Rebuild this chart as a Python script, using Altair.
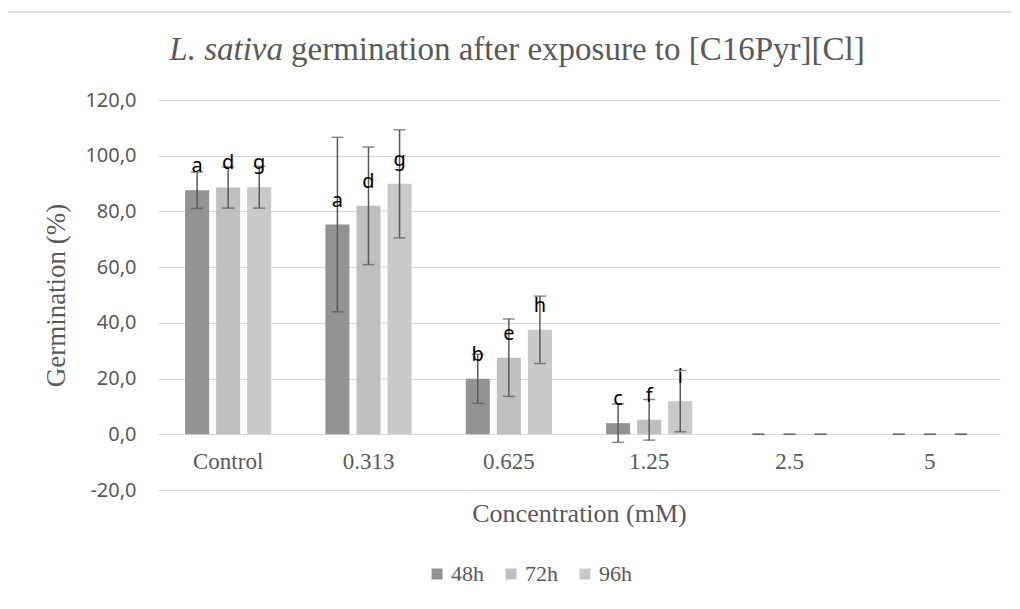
import altair as alt
import pandas as pd

concentrations = ["Control", "0.313", "0.625", "1.25", "2.5", "5"]
series = ["48h", "72h", "96h"]
g48 = [87.6, 75.3, 19.9, 4.0, 0.0, 0.0]
g72 = [88.6, 82.0, 27.5, 5.2, 0.0, 0.0]
g96 = [88.7, 89.9, 37.5, 11.9, 0.0, 0.0]
sd48 = [6.5, 31.3, 8.8, 6.9, 0.0, 0.0]
sd72 = [7.4, 21.1, 13.9, 7.3, 0.0, 0.0]
sd96 = [7.5, 19.4, 12.1, 11.0, 0.0, 0.0]
let48 = ["a", "a", "b", "c", "", ""]
let72 = ["d", "d", "e", "f", "", ""]
let96 = ["g", "g", "h", "i", "", ""]
colors = ["#939393", "#bfbfbf", "#c9c9c9"]
title_italic = "L. sativa"
title_rest = "germination after exposure to [C16Pyr][Cl]"

rows = []
for s, vals, sds, lets in zip(series, [g48, g72, g96], [sd48, sd72, sd96], [let48, let72, let96]):
    for c, v, e, l in zip(concentrations, vals, sds, lets):
        rows.append({"conc": c, "series": s, "value": v, "sd": e, "letter": l})
df = pd.DataFrame(rows)

W, H = 842, 390
GREY = "#595959"
SERIF = "Liberation Serif"
SANS = "Noto Sans"

x = alt.X("conc:N", sort=concentrations, scale=alt.Scale(paddingInner=0, paddingOuter=0),
          axis=alt.Axis(title="Concentration (mM)", orient="bottom", offset=-55.7,
                        labelAngle=0, domain=False, ticks=False, labelPadding=16,
                        labelFont=SERIF, labelFontSize=23, labelColor=GREY,
                        titleFont=SERIF, titleFontSize=26, titleColor=GREY,
                        titleFontWeight="normal", titlePadding=27))
xo = alt.XOffset("series:N", sort=series,
                 scale=alt.Scale(paddingInner=0.2258, paddingOuter=0.871))
y_scale = alt.Scale(domain=[-20, 120], nice=False, zero=False)
y = alt.Y("value:Q", scale=y_scale,
          axis=alt.Axis(title="Germination (%)", values=list(range(-20, 121, 20)),
                        labelExpr="datum.value + ',0'", domain=False, ticks=False,
                        labelPadding=22, labelFont=SANS, labelFontSize=20, labelColor=GREY,
                        gridColor="#d9d9d9", gridWidth=1,
                        titleFont=SERIF, titleFontSize=27, titleColor=GREY,
                        titleFontWeight="normal", titlePadding=14))

base = alt.Chart(df)

bars = base.mark_bar().encode(
    x=x, xOffset=xo, y=y, y2=alt.datum(0),
    color=alt.Color("series:N", sort=series,
                    scale=alt.Scale(domain=series, range=colors),
                    legend=alt.Legend(title=None, orient="none", legendX=268, legendY=463,
                                      direction="horizontal", symbolType="square",
                                      symbolSize=121, symbolStrokeWidth=0,
                                      labelFont=SERIF, labelFontSize=22, labelColor=GREY,
                                      columnPadding=16, labelOffset=3)),
)

err = base.transform_calculate(
    lo="datum.value - datum.sd", hi="datum.value + datum.sd"
).mark_rule(color=GREY, strokeWidth=1.5).encode(
    x=alt.X("conc:N", sort=concentrations), xOffset=xo,
    y=alt.Y("lo:Q", scale=y_scale), y2="hi:Q",
)
cap_lo = base.transform_calculate(lo="datum.value - datum.sd").mark_tick(
    color=GREY, thickness=1.5, size=12).encode(
    x=alt.X("conc:N", sort=concentrations), xOffset=xo, y=alt.Y("lo:Q", scale=y_scale))
cap_hi = base.transform_calculate(hi="datum.value + datum.sd").mark_tick(
    color=GREY, thickness=1.5, size=12).encode(
    x=alt.X("conc:N", sort=concentrations), xOffset=xo, y=alt.Y("hi:Q", scale=y_scale))

labels = base.mark_text(font=SANS, fontSize=20, color="#000000", baseline="alphabetic",
                        dy=-18).encode(
    x=alt.X("conc:N", sort=concentrations), xOffset=xo,
    y=alt.Y("value:Q", scale=y_scale), text="letter:N")

one = pd.DataFrame({"t": [0]})
t1 = alt.Chart(one).mark_text(font=SERIF, fontSize=33, fontStyle="italic", color=GREY,
                              align="right", baseline="alphabetic").encode(
    x=alt.value(125), y=alt.value(-40), text=alt.value(title_italic))
t2 = alt.Chart(one).mark_text(font=SERIF, fontSize=33, color=GREY,
                              align="left", baseline="alphabetic").encode(
    x=alt.value(133), y=alt.value(-40), text=alt.value(title_rest))
frame = alt.Chart(one).mark_rect(fillOpacity=0, stroke="#d9d9d9", strokeWidth=1.5).encode(
    x=alt.value(-153), x2=alt.value(900), y=alt.value(-88), y2=alt.value(600))

chart = alt.layer(frame, bars, err, cap_lo, cap_hi, labels, t1, t2).properties(
    width=W, height=H,
    autosize=alt.AutoSizeParams(type="none"),
    padding={"left": 150, "top": 92, "right": 12, "bottom": 111},
).configure_view(stroke=None)

chart.save("out.html", embed_options={"renderer": "svg", "actions": False})
